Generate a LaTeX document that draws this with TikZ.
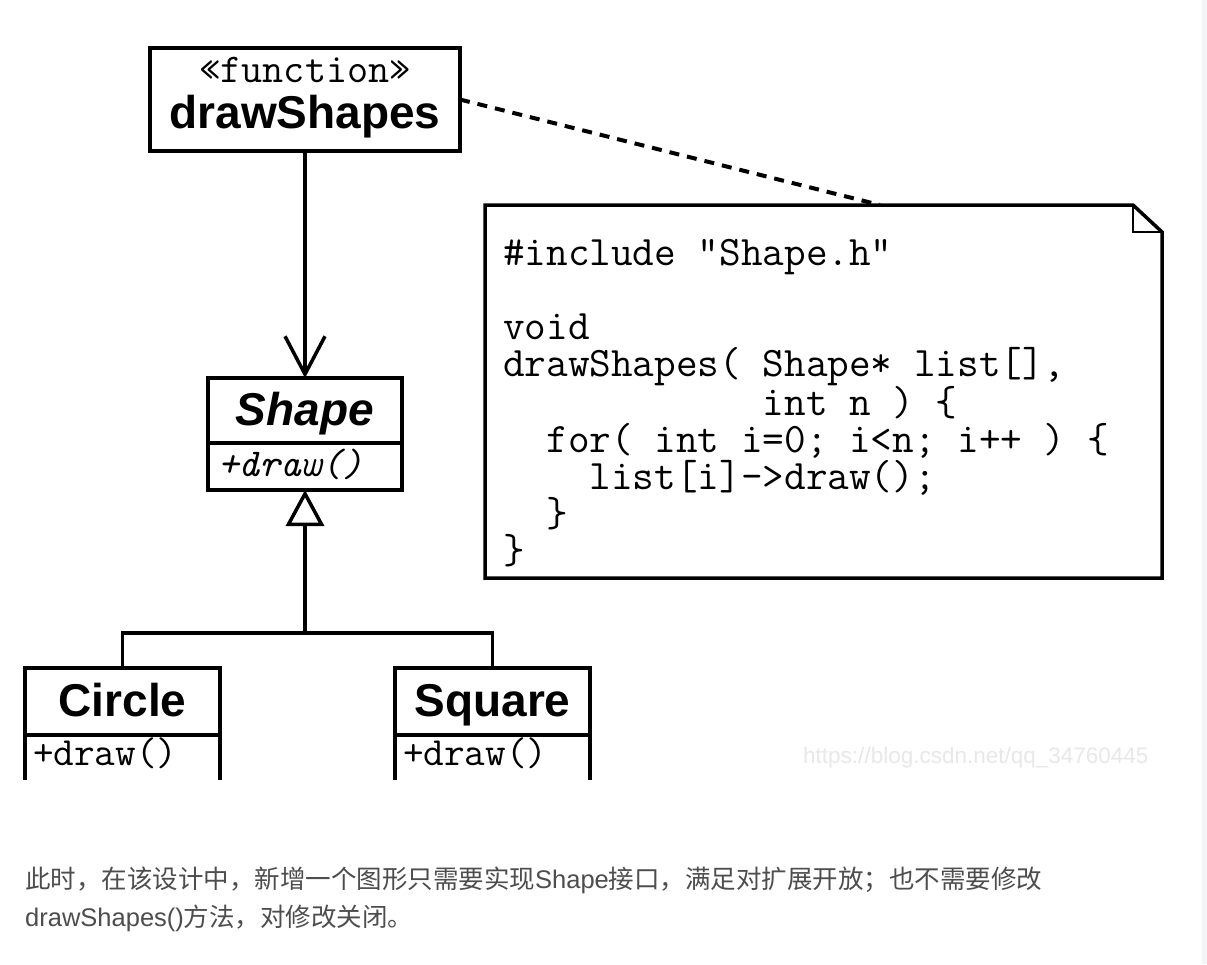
\documentclass[tikz,border=0pt]{standalone}
\usepackage{fontspec}
\setsansfont{Liberation Sans}
\newfontfamily\cjk{Noto Sans CJK SC}
\usepackage{xcolor}
\usetikzlibrary{arrows.meta,positioning}
\definecolor{bodytext}{HTML}{4D4D4D}
\definecolor{wmark}{HTML}{E8E8E8}
\definecolor{sidebar}{HTML}{F4F5F7}

\begin{document}
\begin{tikzpicture}[
  x=1pt,y=-1pt,
  box/.style={draw=black,line width=3.5pt,outer sep=0pt,inner sep=0pt},
  title/.style={box,font=\sffamily\bfseries\fontsize{46}{46}\selectfont},
  ops/.style={box,align=left,font=\ttfamily\fontsize{40}{40}\selectfont},
  stereo/.style={inner sep=0pt,font=\ttfamily\fontsize{41}{41}\selectfont},
  code/.style={inner sep=0pt,align=left,font=\ttfamily\fontsize{42}{37}\selectfont},
  noteline/.style={line width=3.5pt},
  foldline/.style={line width=2pt},
  link/.style={line width=4pt,dash pattern=on 10pt off 8pt},
  dep/.style={line width=3.5pt,-{Straight Barb[length=38pt,width=40pt]}},
  gen/.style={line width=3.5pt,-{Triangle[open,length=36pt,width=38pt]}},
  para/.style={inner sep=0pt,text=bodytext,font=\cjk\fontsize{25.5}{25.5}\selectfont}
]
\useasboundingbox (0,0) rectangle (1207,964);
\fill[white] (0,0) rectangle (1207,964);
\fill[sidebar] (1202,0) rectangle (1207,964);

\begin{scope}
\clip (0,0) rectangle (1202,779);
% function box
\node[title,minimum width=310pt,text height=80pt,text depth=23pt,anchor=north] (fn) at (305,48) {drawShapes};
\node[stereo,anchor=base] (fnst) at ([yshift=-34pt]fn.north) {«function»};

% abstract class
\node[title,font=\sffamily\bfseries\itshape\fontsize{46}{46}\selectfont,minimum width=194pt,text height=47pt,text depth=18pt,anchor=north] (shape) at (305,378) {Shape};
\node[ops,font=\ttfamily\itshape\fontsize{39.5}{39.5}\selectfont,text width=174pt,inner xsep=10pt,text height=33pt,text depth=14pt,below=0pt of shape] (shapeops) {+draw()};

% subclasses
\node[title,minimum width=195pt,text height=48pt,text depth=19pt,anchor=north] (circle) at (122.5,668) {Circle};
\node[ops,text width=179pt,inner xsep=8pt,text height=30pt,text depth=20pt,below=0pt of circle] (circleops) {+draw()};
\node[title,minimum width=195pt,text height=48pt,text depth=19pt,anchor=north] (square) at (492.5,668) {Square};
\node[ops,text width=179pt,inner xsep=8pt,text height=30pt,text depth=20pt,below=0pt of square] (squareops) {+draw()};

% note
\node[inner sep=0pt,outer sep=0pt,minimum width=677pt,minimum height=373pt,anchor=north west] (note) at (485,205) {};
\draw[noteline] (note.north west) -- ([xshift=-29pt]note.north east) -- ([yshift=-27pt]note.north east)
  -- (note.south east) -- (note.south west) -- cycle;
\draw[foldline] ([xshift=-29pt]note.north east) |- ([yshift=-27pt]note.north east);
\node[code,anchor=north west] (src) at ([xshift=18pt,yshift=-34pt]note.north west)
  {\#include "Shape.h"\\[37pt]
   void\\
   drawShapes( Shape* list[],\\
   ~~~~~~~~~~~~int n ) \{\\
   ~~for( int i=0; i<n; i++ ) \{\\
   ~~~~list[i]->draw();\\
   ~~\}\\
   \}};
\coordinate (notepin) at ([xshift=395pt]note.north west);

% connectors
\draw[link] (fn.east) -- (notepin);
\draw[dep] (fn) -- (shape);
\coordinate (fork) at (305,633);
\draw[line width=3.5pt] (circle.north) |- (fork) -| (square.north);
\draw[gen] (fork) -- (shapeops.south);

\node[inner sep=0pt,text=wmark,font=\sffamily\fontsize{22.5}{22.5}\selectfont,anchor=base west] (wm) at (803,763) {https://blog.csdn.net/qq\_34760445};
\end{scope}

% caption text
\node[para,anchor=base west] (para1) at (25,888) {此时，在该设计中，新增一个图形只需要实现{\sffamily Shape}接口，满足对扩展开放；也不需要修改};
\node[para,anchor=base west] (para2) at ([yshift=-38pt]para1.base west) {{\sffamily drawShapes()}方法，对修改关闭。};
\end{tikzpicture}
\end{document}
